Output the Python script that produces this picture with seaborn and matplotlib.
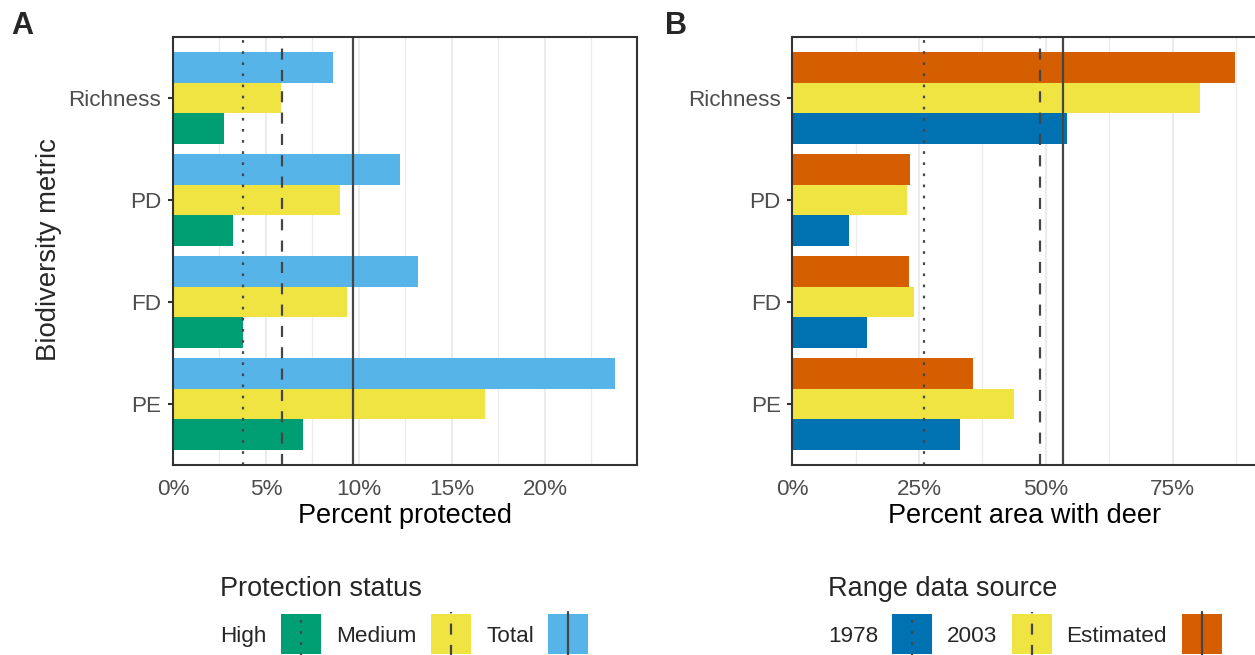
import numpy as np
import pandas as pd
import matplotlib
matplotlib.use("Agg")
import matplotlib.pyplot as plt
import seaborn as sns
from matplotlib.patches import Rectangle
from matplotlib.lines import Line2D
from matplotlib.ticker import FixedLocator, FixedFormatter

# ---------------- data ----------------
metrics = ["Richness", "PD", "FD", "PE"]

protection_levels = ["High", "Medium", "Total"]
prot_high = [2.74, 3.23, 3.76, 6.99]
prot_medium = [5.80, 8.98, 9.35, 16.77]
prot_total = [8.60, 12.20, 13.17, 23.76]
prot_ref = [3.75, 5.88, 9.69]          # reference lines: High, Medium, Total

range_sources = ["1978", "2003", "Estimated"]
deer_1978 = [54.2, 11.2, 14.7, 33.1]
deer_2003 = [80.4, 22.6, 24.0, 43.7]
deer_est = [87.3, 23.2, 23.0, 35.6]
deer_ref = [26.0, 48.9, 53.4]          # reference lines: 1978, 2003, Estimated

ticks_a = [0, 5, 10, 15, 20]
ticks_b = [0, 25, 50, 75]
tick_labels_a = ["0%", "5%", "10%", "15%", "20%"]
tick_labels_b = ["0%", "25%", "50%", "75%"]

# ---------------- style ----------------
sns.set_style("white")
plt.rcParams["font.family"] = ["Liberation Sans", "DejaVu Sans"]

W, H = 1255, 655
fig = plt.figure(figsize=(W / 100, H / 100), dpi=100)

def rect(l, t, r, b):
    return [l / W, 1 - b / H, (r - l) / W, (b - t) / H]

LINE_COL = "#454545"
LW = 1.6
styles = [(0, (1.2, 3.8)), (0, (5, 4.6)), "solid"]
SMALL = 16.2
BIG = 19.5

pal_a = {"High": "#009E73", "Medium": "#F0E442", "Total": "#56B4E9"}
pal_b = {"1978": "#0072B2", "2003": "#F0E442", "Estimated": "#D55E00"}

df_a = pd.DataFrame({
    "metric": metrics * 3,
    "group": np.repeat(protection_levels, len(metrics)),
    "value": prot_high + prot_medium + prot_total,
})
df_b = pd.DataFrame({
    "metric": metrics * 3,
    "group": np.repeat(range_sources, len(metrics)),
    "value": deer_1978 + deer_2003 + deer_est,
})


def panel(ax, df, levels, palette, refs, ticks, tlabels, xlabel, xcenter_px):
    sns.barplot(data=df, x="value", y="metric", hue="group",
                order=metrics, hue_order=levels[::-1], palette=palette,
                orient="h", width=0.9, saturation=1, errorbar=None,
                linewidth=0, legend=False, ax=ax, zorder=2)
    vmax = df["value"].max()
    ax.set_xlim(0, vmax * 1.05)
    ax.set_ylim(len(metrics) - 1 + 0.6, -0.6)
    ax.xaxis.set_major_locator(FixedLocator(ticks))
    ax.xaxis.set_major_formatter(FixedFormatter(tlabels))
    minors = [t + (ticks[1] - ticks[0]) / 2 for t in ticks]
    ax.xaxis.set_minor_locator(FixedLocator(minors))
    ax.set_axisbelow(True)
    ax.grid(False)
    ax.grid(which="major", axis="x", color="#EBEBEB", lw=1.5, zorder=0)
    ax.grid(which="minor", axis="x", color="#EBEBEB", lw=0.9, zorder=0)
    for v, ls in zip(refs, styles):
        ax.axvline(v, color=LINE_COL, lw=LW, linestyle=ls, zorder=3,
                   dash_capstyle="butt")
    for sp in ax.spines.values():
        sp.set_visible(True)
        sp.set_color("#333333")
        sp.set_linewidth(1.5)
        sp.set_zorder(4)
    ax.tick_params(axis="both", which="major", length=3.8, width=1.5,
                   color="#333333", labelcolor="#4D4D4D", labelsize=SMALL)
    ax.tick_params(axis="x", which="major", pad=6.5)
    ax.tick_params(axis="y", which="major", pad=4.5, left=True)
    ax.tick_params(which="minor", length=0)
    ax.set_xlabel("")
    ax.set_ylabel("")
    fig.text(xcenter_px / W, 1 - 523 / H, xlabel, fontsize=BIG, color="black",
             ha="center", va="baseline")


axA = fig.add_axes(rect(173, 37, 637, 465))
axB = fig.add_axes(rect(792.3, 37, 1257, 465))

panel(axA, df_a, protection_levels, pal_a, prot_ref, ticks_a, tick_labels_a,
      "Percent protected", (173 + 637) / 2)
panel(axB, df_b, range_sources, pal_b, deer_ref, ticks_b, tick_labels_b,
      "Percent area with deer", (792.3 + 1257) / 2)

fig.text(49 / W, 1 - 250 / H, "Biodiversity metric", rotation=90, fontsize=19.8,
         ha="center", va="center")

fig.text(11 / W, 1 - 33.5 / H, "A", fontsize=22, fontweight="bold", va="baseline")
fig.text(665 / W, 1 - 33.5 / H, "B", fontsize=22, fontweight="bold", va="baseline")


def legend(title, title_x, labels, label_xs, box_xs, palette):
    fig.text(title_x / W, 1 - 596 / H, title, fontsize=BIG, ha="left",
             va="baseline")
    for lab, lx, bx, ls in zip(labels, label_xs, box_xs, styles):
        fig.text(lx / W, 1 - 642 / H, lab, fontsize=SMALL, ha="left", va="baseline")
        fig.add_artist(Rectangle((bx / W, 1 - 653.5 / H), 39.7 / W, 39.5 / H,
                                 transform=fig.transFigure,
                                 facecolor=palette[lab], edgecolor="none"))
        cx = (bx + 19.85) / W
        fig.add_artist(Line2D([cx, cx], [1 - 656 / H, 1 - 612 / H],
                              transform=fig.transFigure, color=LINE_COL, lw=LW,
                              linestyle=ls, dash_capstyle="butt"))


legend("Protection status", 220.5, protection_levels, [220.5, 336.5, 486.5],
       [281, 431, 548], pal_a)
legend("Range data source", 828, range_sources, [828, 946.5, 1066.5],
       [892, 1012, 1182], pal_b)

fig.savefig("out.png", dpi=100)
